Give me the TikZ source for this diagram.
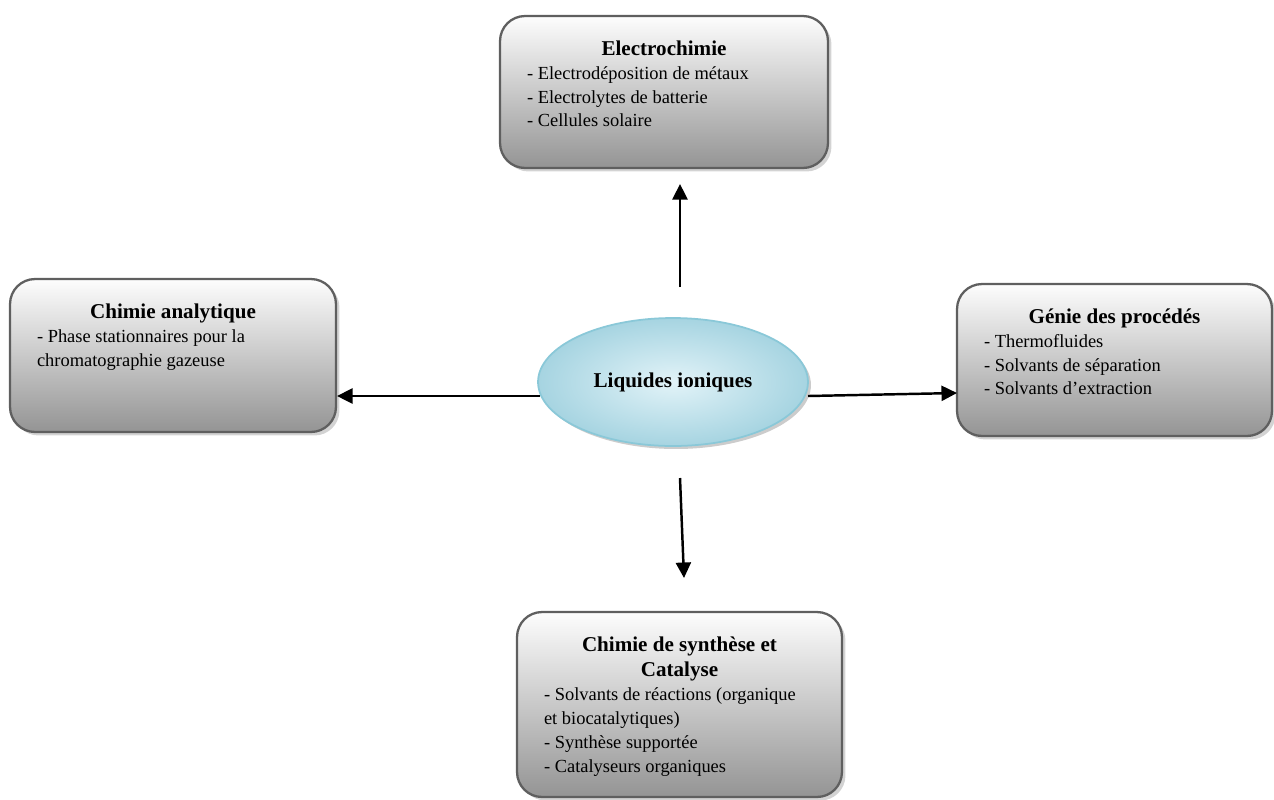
\documentclass[tikz,border=0pt]{standalone}
\usepackage{fontspec}
\setmainfont{Liberation Serif}
\usepackage{tikz}
\usetikzlibrary{shapes,shadows,arrows.meta,positioning}
\definecolor{bord}{RGB}{95,95,95}
\definecolor{fondhaut}{RGB}{253,253,253}
\definecolor{fondbas}{RGB}{148,148,148}
\definecolor{ellbord}{RGB}{138,200,216}
\definecolor{ellclair}{RGB}{226,243,248}
\definecolor{ellfonce}{RGB}{166,212,225}
\newcommand{\cadre}[4]{\begin{minipage}[c][#2][t]{#1}
    \vspace*{14pt}
    {\centering\fontsize{12}{14.5}\selectfont\bfseries #3\par}
    \fontsize{10.5}{13.6}\selectfont #4
  \end{minipage}}

\begin{document}
\begin{tikzpicture}[x=0.02cm,y=-0.02cm,
    domaine/.style={rectangle,rounded corners=0.5cm,draw=bord,line width=1.3pt,
      top color=fondhaut,bottom color=fondbas,inner xsep=0.54cm,inner ysep=0pt,
      drop shadow={shadow xshift=0.07cm,shadow yshift=-0.07cm,opacity=0.35}},
    centre/.style={ellipse,draw=ellbord,line width=1pt,inner color=ellclair,outer color=ellfonce,
      minimum width=5.4cm,minimum height=2.56cm,font=\fontsize{12}{14}\selectfont\bfseries,
      drop shadow={shadow xshift=0.06cm,shadow yshift=-0.06cm,opacity=0.4}},
    fleche/.style={-{Triangle[length=0.31cm,width=0.3cm]},line width=1.4pt}]
  \useasboundingbox (0,0) rectangle (1274,799);
  \node[centre] (li) at (673,382) {Liquides ioniques};
  \node[domaine] (elec) at (664,92) {\cadre{5.48cm}{3.04cm}{Electrochimie}{%
      - Electrodéposition de métaux\\
      - Electrolytes de batterie\\
      - Cellules solaire}};
  \node[domaine] (anal) at (173,355.5) {\cadre{5.44cm}{3.06cm}{Chimie analytique}{%
      - Phase stationnaires pour la\\
      chromatographie gazeuse}};
  \node[domaine] (genie) at (1114.5,360) {\cadre{5.22cm}{3.04cm}{Génie des procédés}{%
      - Thermofluides\\
      - Solvants de séparation\\
      - Solvants d’extraction}};
  \node[domaine] (synth) at (679.5,704.5) {\cadre{5.42cm}{3.7cm}{Chimie de synthèse et\\ Catalyse}{%
      - Solvants de réactions (organique\\
      et biocatalytiques)\\
      - Synthèse supportée\\
      - Catalyseurs organiques}};
  % bouts des fleches
  \coordinate (li-n) at (680,287);
  \coordinate (elec-s) at (680,184);
  \coordinate (li-w) at (540,396);
  \coordinate (anal-e) at (337,396);
  \coordinate (li-e) at (808,396);
  \coordinate (genie-w) at (957,393);
  \coordinate (li-s) at (680,478);
  \coordinate (synth-n) at (684,578);
  \draw[fleche] (li-n) -- (elec-s);
  \draw[fleche] (li-w) -- (anal-e);
  \draw[fleche] (li-e) -- (genie-w);
  \draw[fleche] (li-s) -- (synth-n);
\end{tikzpicture}
\end{document}
